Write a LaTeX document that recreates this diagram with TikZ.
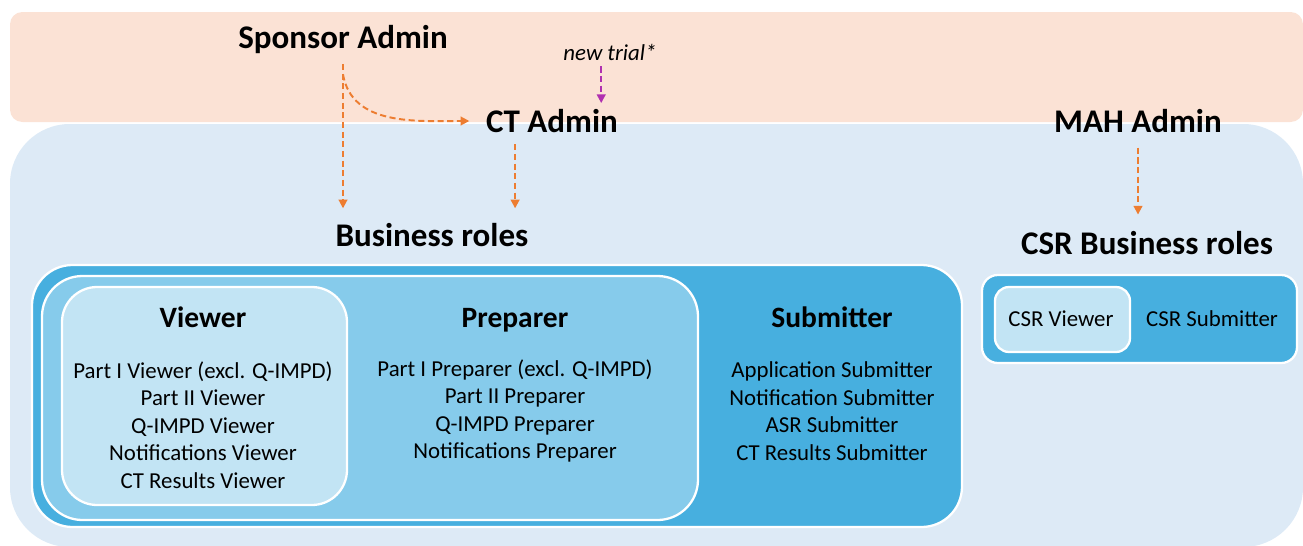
\documentclass[tikz,border=0pt]{standalone}
\usepackage{fontspec}
\setmainfont{Carlito}
\usetikzlibrary{arrows.meta, positioning, calc}

\definecolor{peach}{HTML}{FBE2D5}
\definecolor{bgblue}{HTML}{DDEAF6}
\definecolor{subblue}{HTML}{47AFDF}
\definecolor{prepblue}{HTML}{86CBEB}
\definecolor{viewblue}{HTML}{C2E4F4}
\definecolor{arrorange}{HTML}{ED7D31}
\definecolor{arrpurple}{HTML}{B030B0}

\tikzset{
  title/.style={font=\fontsize{18.8}{22}\selectfont\bfseries},
  head/.style={font=\fontsize{16.8}{20}\selectfont\bfseries, text height=0.7em, text depth=0.2em},
  items/.style={font=\fontsize{13}{15.7}\selectfont, align=center},
  note/.style={font=\fontsize{13}{15}\selectfont\itshape},
  rolebox/.style={draw=white, line width=1.3pt},
  orangearr/.style={arrorange, line width=1.1pt, dash pattern=on 3.5pt off 2pt, -{Triangle[length=5pt,width=5pt]}},
  purplearr/.style={arrpurple, line width=1.1pt, dash pattern=on 3.5pt off 2pt, -{Triangle[length=5pt,width=5pt]}}
}

\begin{document}
\begin{tikzpicture}[x=0.02cm, y=-0.02cm]
  \useasboundingbox (0,0) rectangle (1303,545);

  % bands
  \fill[peach, rounded corners=7pt] (10,12) rectangle (1303,122);
  \fill[bgblue, rounded corners=34pt] (10,124) rectangle (1303,547);

  % business role boxes
  \draw[rolebox, fill=subblue, rounded corners=23pt] (32,265) rectangle (962,527);
  \draw[rolebox, fill=prepblue, rounded corners=23pt] (42,276) rectangle (698,520);
  \draw[rolebox, fill=viewblue, rounded corners=20pt] (62,287) rectangle (347,505);

  % CSR boxes
  \draw[rolebox, fill=subblue, rounded corners=9pt] (982,275) rectangle (1297,363);
  \draw[rolebox, fill=viewblue, rounded corners=8pt] (995,287) rectangle (1130,352);

  % admins
  \node[title] (sponsor) at (343,40) {Sponsor Admin};
  \node[note] (trial) at (610,52) {new trial*};
  \node[title] (ctadmin) at (552,121) {CT Admin};
  \node[title] (mah) at (1138,121) {MAH Admin};
  \node[title] (business) at (432,235) {Business roles};
  \node[title] (csrbusiness) at (1147,243) {CSR Business roles};

  % roles
  \node[head] (viewer) at (203,323) {Viewer};
  \node[head] (preparer) at (515,323) {Preparer};
  \node[head] (submitter) at (832,323) {Submitter};

  \node[items] (viewerlist) at (203,425) {Part I Viewer (excl. Q-IMPD)\\Part II Viewer\\Q-IMPD Viewer\\Notifications Viewer\\CT Results Viewer};
  \node[items] (preparerlist) at (515,411) {Part I Preparer (excl. Q-IMPD)\\Part II Preparer\\Q-IMPD Preparer\\Notifications Preparer};
  \node[items] (submitterlist) at (832,411) {Application Submitter\\Notification Submitter\\ASR Submitter\\CT Results Submitter};

  \node[items] (csrviewer) at (1061,319) {CSR Viewer};
  \node[items] (csrsubmitter) at (1212,319) {CSR Submitter};

  % arrows
  \draw[orangearr] ([yshift=-2pt]sponsor.south) -- ([yshift=5pt]sponsor.south |- business.north);
  \draw[orangearr] ([yshift=-8pt]sponsor.south) to[out=-80, in=180] ([xshift=-6pt]ctadmin.west);
  \draw[orangearr] ([xshift=-21pt, yshift=-3pt]ctadmin.south) -- ([xshift=-21pt, yshift=5pt]ctadmin.south |- business.north);
  \draw[purplearr] ([xshift=-5pt]trial.south) -- ([xshift=-5pt]trial.south |- ctadmin.north);
  \draw[orangearr] ([yshift=-5pt]mah.south) -- ([yshift=6pt]mah.south |- csrbusiness.north);
\end{tikzpicture}
\end{document}
